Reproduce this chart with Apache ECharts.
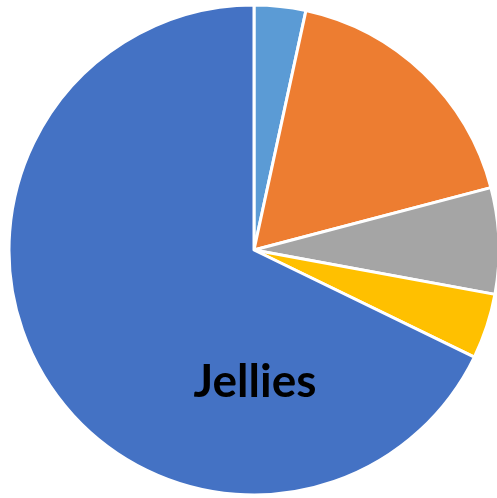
<!DOCTYPE html>
<html>
<head>
<meta charset="utf-8">
<script src="https://cdn.jsdelivr.net/npm/echarts@6/dist/echarts.min.js"></script>
<style>
  html, body { margin: 0; padding: 0; background: #fff; }
  #chart { width: 497px; height: 498px; }
</style>
</head>
<body>
<div id="chart"></div>
<script>
// Slice names, shares (percent) and fills, clockwise from 12 o'clock
const categories = ['Gummies', 'Chocolates', 'Hard Candy', 'Lollipops', 'Jellies'];
const shares = [3.4, 17.5, 7.0, 4.3, 67.8];
const colors = ['#5B9BD5', '#ED7D31', '#A5A5A5', '#FFC000', '#4472C4'];
const labelled = ['Jellies'];

const chart = echarts.init(document.getElementById('chart'));

const data = categories.map((name, i) => ({
  name: name,
  value: shares[i],
  itemStyle: { color: colors[i] },
  label: { show: labelled.includes(name) }
}));

chart.setOption({
  animation: false,
  series: [{
    type: 'pie',
    center: [254, 250],
    radius: [0, 245],
    startAngle: 90,
    clockwise: true,
    avoidLabelOverlap: false,
    itemStyle: { borderColor: '#ffffff', borderWidth: 3 },
    label: {
      position: 'inside',
      formatter: '{b}',
      color: '#000000',
      fontFamily: 'Lato',
      fontWeight: 'bold',
      fontSize: 46
    },
    labelLine: { show: false },
    labelLayout: function (params) {
      if (params.dataIndex === categories.indexOf('Jellies')) {
        return { x: 255, y: 382, align: 'center', verticalAlign: 'middle' };
      }
      return {};
    },
    data: data
  }]
});
</script>
</body>
</html>
